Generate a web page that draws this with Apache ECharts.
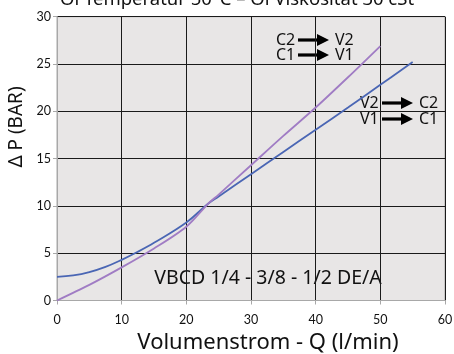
<!DOCTYPE html>
<html><head><meta charset="utf-8">
<script src="https://cdn.jsdelivr.net/npm/echarts@6/dist/echarts.min.js"></script>
<style>html,body{margin:0;padding:0;background:#fff}#c{width:454px;height:354px}</style>
</head><body><div id="c"></div>
<script>
const flowBlue = [0, 2.5, 5, 7.5, 10, 12.5, 15, 20, 23.4, 25, 30, 35, 40, 45, 50, 55];
const dpBlue   = [2.5, 2.65, 3.0, 3.55, 4.3, 5.15, 6.1, 8.25, 10.25, 11.0, 13.35, 15.7, 18.05, 20.4, 22.8, 25.2];
const flowPurple = [0, 5, 10, 15, 20, 23.4, 25, 30, 35, 40, 45, 50];
const dpPurple   = [0, 1.65, 3.5, 5.5, 7.8, 10.25, 11.2, 14.3, 17.4, 20.4, 23.6, 26.9];
const xTicks = [0, 10, 20, 30, 40, 50, 60];
const yTicks = [0, 5, 10, 15, 20, 25, 30];
const titleText = 'Öl Temperatur 50°C – Öl Viskosität 30 cSt';
const modelText = 'VBCD 1/4 - 3/8 - 1/2 DE/A';
const yName = 'Δ P (BAR)';

const chart = echarts.init(document.getElementById('c'));
const font = 'Noto Sans';
function arrow(x, y) {
  return {type:'group', x:x, y:y, children:[
    {type:'rect', shape:{x:0, y:-1.6, width:20, height:3.2}, style:{fill:'#000'}},
    {type:'polygon', shape:{points:[[19,-6],[31,0],[19,6]]}, style:{fill:'#000'}}
  ]};
}
function label(x, y, t) {
  return {type:'text', x:x, y:y, style:{text:t, font:'16px "Noto Sans"', fill:'#111', textVerticalAlign:'middle'}};
}
chart.setOption({
  animation:false,
  title:{text:titleText, left:232, textAlign:'center', top:-15,
    textStyle:{fontFamily:font, fontSize:18.5, fontWeight:'normal', color:'#111'}},
  grid:{left:57, right:9, top:16.7, bottom:53.5, containLabel:false, outerBoundsMode:'none',
    show:true, backgroundColor:'#e8e6e6', borderColor:'#a8a8a8', borderWidth:1},
  xAxis:{type:'value', min:0, max:60, interval:10,
    name:'Volumenstrom - Q (l/min)', nameLocation:'middle', nameGap:29,
    nameTextStyle:{fontFamily:font, fontSize:22, color:'#111', padding:[0,0,0,34]},
    axisLine:{show:true, lineStyle:{color:'#a8a8a8'}},
    axisTick:{show:true, length:4, lineStyle:{color:'#a8a8a8'}},
    axisLabel:{fontFamily:'Lato', fontSize:12.5, color:'#111', margin:13,
      formatter:v => xTicks.includes(v) ? String(v) : ''},
    splitLine:{show:true, lineStyle:{color:'#1a1a1a', width:1}}},
  yAxis:{type:'value', min:0, max:30, interval:5,
    axisLine:{show:true, lineStyle:{color:'#a8a8a8'}},
    axisTick:{show:true, length:4, lineStyle:{color:'#a8a8a8'}},
    axisLabel:{fontFamily:'Lato', fontSize:12.5, color:'#111', margin:6,
      formatter:v => yTicks.includes(v) ? String(v) : ''},
    splitLine:{show:true, lineStyle:{color:'#1a1a1a', width:1}}},
  series:[
    {type:'line', data:flowBlue.map((x,i)=>[x, dpBlue[i]]), smooth:0.4, showSymbol:false,
      lineStyle:{color:'#4a66b4', width:1.8}},
    {type:'line', data:flowPurple.map((x,i)=>[x, dpPurple[i]]), smooth:0.3, showSymbol:false,
      lineStyle:{color:'#a07cc4', width:1.8}}
  ],
  graphic:[
    {type:'text', x:17, y:127, rotation:Math.PI/2, style:{text:yName, font:'19px "Noto Sans"', fill:'#111', textAlign:'center', textVerticalAlign:'middle'}},
    label(276, 40, 'C2'), arrow(298, 40), label(335, 40, 'V2'),
    label(276, 55, 'C1'), arrow(298, 55), label(335, 55, 'V1'),
    label(360, 103, 'V2'), arrow(382, 103), label(419, 103, 'C2'),
    label(360, 119, 'V1'), arrow(382, 119), label(419, 119, 'C1'),
    {type:'text', x:268, y:278, style:{text:modelText, font:'19.5px "Noto Sans"', fill:'#111', textAlign:'center', textVerticalAlign:'middle'}}
  ]
});
</script></body></html>
